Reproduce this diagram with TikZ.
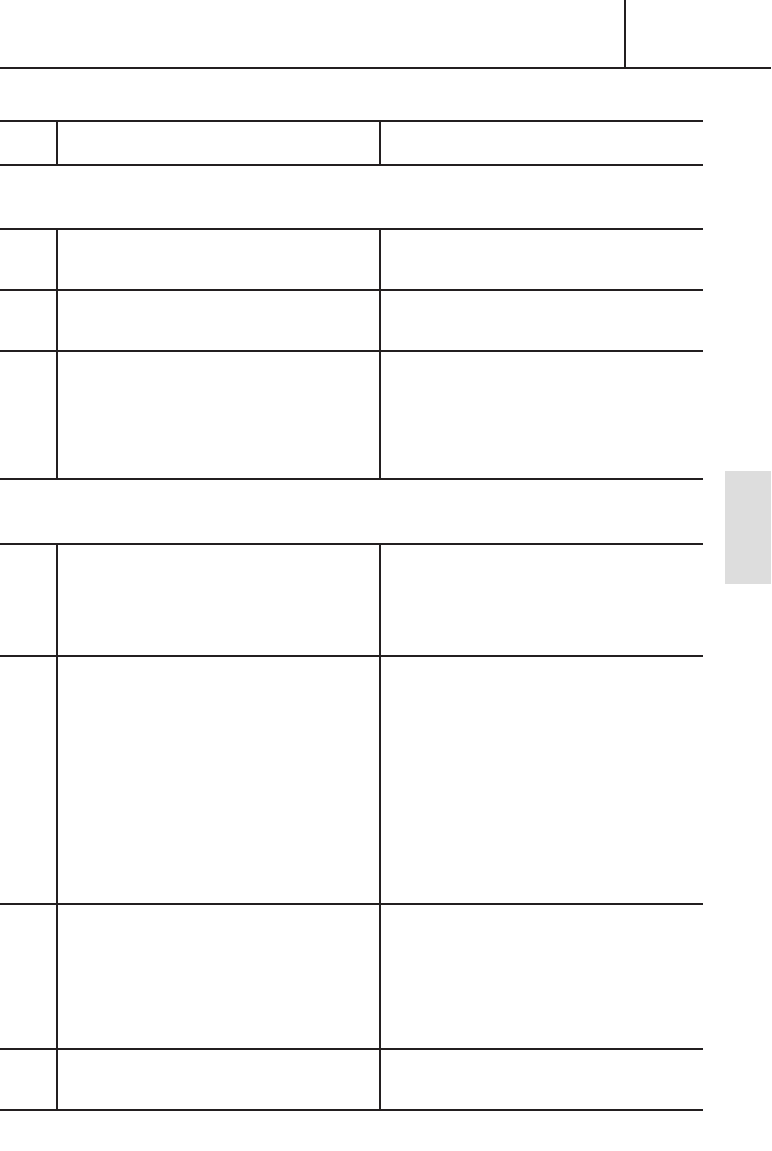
\documentclass[tikz,border=0pt]{standalone}
\definecolor{ink}{HTML}{231F20}
\definecolor{tabgray}{HTML}{DDDDDD}
\begin{document}
\begin{tikzpicture}[x=0.75pt,y=-0.75pt,
  rule/.style={draw=ink,line width=0.9pt},
  thickrule/.style={draw=ink,line width=1.8pt},
  tabfill/.style={fill=tabgray,draw=none}]
\useasboundingbox (0,0) rectangle (771,1151);
% header
\draw[rule] (0,68) -- (771,68);
\draw[rule] (625,0) -- (625,68);
% gray side tab
\fill[tabfill] (725,471) rectangle (771,584);
% table head
\draw[rule] (0,121) -- (703,121);
\draw[thickrule] (0,165) -- (703,165);
\draw[rule] (57,121) -- (57,165);
\draw[rule] (380,121) -- (380,165);
% section 1
\foreach \yy in {229,290,351,479} \draw[rule] (0,\yy) -- (703,\yy);
\draw[rule] (57,229) -- (57,479);
\draw[rule] (380,229) -- (380,479);
% section 2
\foreach \yy in {544,656,904,1049,1110} \draw[rule] (0,\yy) -- (703,\yy);
\draw[rule] (57,544) -- (57,1110);
\draw[rule] (380,544) -- (380,1110);
\end{tikzpicture}
\end{document}
